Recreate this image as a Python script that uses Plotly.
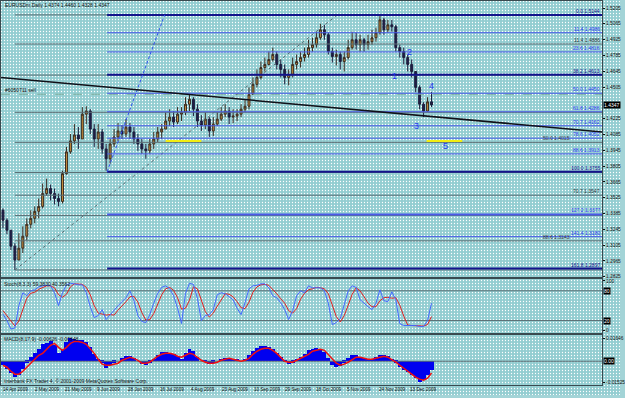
import plotly.graph_objects as go

W, H = 625, 398

# ---------------- data ----------------
FIRST_OPEN = 1.3413
CLOSE = [1.3325, 1.3237, 1.3096, 1.2973, 1.3078, 1.3184, 1.3289, 1.3342, 1.3404, 1.3448,
         1.3562, 1.3606, 1.3562, 1.3518, 1.3492, 1.3738, 1.3931, 1.4028, 1.4081, 1.4045,
         1.4265, 1.4292, 1.4133, 1.4045, 1.4107, 1.3957, 1.3870, 1.4001, 1.4063, 1.4116,
         1.4089, 1.4151, 1.4107, 1.4045, 1.4001, 1.3957, 1.3940, 1.4001, 1.4045, 1.4107,
         1.4133, 1.4204, 1.4239, 1.4195, 1.4265, 1.4283, 1.4353, 1.4397, 1.4309, 1.4204,
         1.4168, 1.4221, 1.4116, 1.4177, 1.4221, 1.4265, 1.4292, 1.4239, 1.4248, 1.4265,
         1.4309, 1.4335, 1.4441, 1.4529, 1.4590, 1.4678, 1.4705, 1.4749, 1.4793, 1.4705,
         1.4661, 1.4590, 1.4617, 1.4705, 1.4731, 1.4766, 1.4793, 1.4854, 1.4880, 1.4942,
         1.5012, 1.4968, 1.4819, 1.4775, 1.4793, 1.4731, 1.4766, 1.4854, 1.4924, 1.4880,
         1.4924, 1.4880, 1.4907, 1.4942, 1.4986, 1.5100, 1.5012, 1.5056, 1.5039, 1.4854,
         1.4819, 1.4766, 1.4705, 1.4643, 1.4502, 1.4353, 1.4292, 1.4374, 1.4347]
HIGH = [1.3430, 1.3342, 1.3237, 1.3122, 1.3210, 1.3272, 1.3342, 1.3413, 1.3448, 1.3518,
        1.3650, 1.3694, 1.3641, 1.3606, 1.3562, 1.3764, 1.3975, 1.4089, 1.4177, 1.4151,
        1.4327, 1.4335, 1.4309, 1.4177, 1.4177, 1.4133, 1.4001, 1.4045, 1.4133, 1.4186,
        1.4168, 1.4221, 1.4186, 1.4151, 1.4089, 1.4045, 1.4001, 1.4045, 1.4107, 1.4151,
        1.4177, 1.4283, 1.4309, 1.4292, 1.4327, 1.4327, 1.4415, 1.4441, 1.4415, 1.4353,
        1.4256, 1.4283, 1.4239, 1.4239, 1.4283, 1.4327, 1.4353, 1.4327, 1.4309, 1.4309,
        1.4353, 1.4397, 1.4502, 1.4590, 1.4661, 1.4731, 1.4766, 1.4819, 1.4854, 1.4819,
        1.4749, 1.4705, 1.4661, 1.4766, 1.4793, 1.4819, 1.4854, 1.4924, 1.4942, 1.4995,
        1.5065, 1.5056, 1.4986, 1.4854, 1.4836, 1.4819, 1.4819, 1.4924, 1.4995, 1.4986,
        1.4968, 1.4942, 1.4968, 1.5012, 1.5030, 1.5144, 1.5118, 1.5100, 1.5100, 1.5056,
        1.4880, 1.4854, 1.4793, 1.4749, 1.4643, 1.4520, 1.4371, 1.4415, 1.4460]
LOW = [1.3254, 1.3202, 1.3061, 1.2885, 1.2973, 1.3035, 1.3149, 1.3254, 1.3298, 1.3342,
       1.3430, 1.3544, 1.3500, 1.3465, 1.3448, 1.3474, 1.3729, 1.3914, 1.4001, 1.3957,
       1.4045, 1.4177, 1.4089, 1.3975, 1.3957, 1.3914, 1.3764, 1.3826, 1.3975, 1.4028,
       1.4045, 1.4063, 1.4045, 1.4001, 1.3940, 1.3914, 1.3870, 1.3914, 1.3957, 1.4019,
       1.4045, 1.4133, 1.4160, 1.4151, 1.4177, 1.4204, 1.4256, 1.4292, 1.4248, 1.4151,
       1.4116, 1.4133, 1.4063, 1.4072, 1.4160, 1.4204, 1.4239, 1.4177, 1.4186, 1.4204,
       1.4239, 1.4283, 1.4309, 1.4441, 1.4502, 1.4573, 1.4643, 1.4696, 1.4731, 1.4661,
       1.4590, 1.4529, 1.4520, 1.4590, 1.4661, 1.4678, 1.4731, 1.4766, 1.4819, 1.4854,
       1.4924, 1.4924, 1.4793, 1.4722, 1.4696, 1.4661, 1.4643, 1.4749, 1.4836, 1.4836,
       1.4819, 1.4819, 1.4836, 1.4880, 1.4907, 1.4968, 1.4968, 1.4986, 1.4995, 1.4819,
       1.4766, 1.4705, 1.4643, 1.4590, 1.4459, 1.4309, 1.4239, 1.4283, 1.4328]
OPEN = [FIRST_OPEN] + CLOSE[:-1]
BARS = list(range(len(CLOSE)))

STOCH_MAIN = [33, 20, 3, 5, 50, 76, 70, 80, 82, 88, 90, 91, 90, 76, 50, 76, 92, 95, 94, 92,
              92, 76, 48, 26, 30, 42, 22, 32, 40, 50, 58, 66, 80, 60, 30, 18, 16, 32, 55, 75,
              87, 90, 84, 70, 45, 14, 75, 95, 93, 65, 20, 30, 32, 42, 72, 76, 74, 68, 62, 45,
              32, 56, 84, 90, 91, 94, 94, 86, 70, 66, 56, 42, 22, 40, 70, 80, 76, 90, 86, 86,
              86, 80, 55, 12, 16, 24, 50, 80, 90, 87, 62, 54, 48, 42, 55, 82, 60, 58, 78, 62,
              14, 10, 10, 10, 10, 8, 8, 20, 55]
STOCH_SIGNAL = [40, 30, 18, 9, 19, 44, 65, 75, 77, 83, 87, 90, 90, 86, 72, 67, 73, 88, 94, 94,
                93, 87, 72, 50, 35, 33, 31, 32, 31, 41, 49, 58, 68, 69, 57, 36, 21, 22, 34, 54,
                72, 84, 87, 81, 66, 43, 45, 61, 88, 84, 59, 38, 27, 35, 49, 63, 74, 73, 68, 58,
                46, 44, 57, 77, 88, 92, 93, 91, 83, 74, 64, 55, 40, 35, 44, 63, 75, 82, 84, 87,
                86, 84, 74, 49, 28, 17, 30, 51, 73, 86, 80, 68, 55, 48, 48, 60, 66, 67, 65, 66,
                51, 29, 11, 10, 10, 9, 9, 12, 28]
MACD_HIST = [-0.0029, -0.0057, -0.0086, -0.0115, -0.0100, -0.0057, -0.0014, 0.0029, 0.0057, 0.0086,
             0.0122, 0.0129, 0.0143, 0.0115, 0.0057, 0.0079, 0.0136, 0.0165, 0.0158, 0.0150,
             0.0150, 0.0136, 0.0100, 0.0050, 0.0014, -0.0014, -0.0050, -0.0029, -0.0014, 0.0000,
             0.0021, 0.0036, 0.0036, 0.0021, 0.0000, -0.0021, -0.0029, -0.0014, 0.0014, 0.0043,
             0.0064, 0.0064, 0.0057, 0.0050, 0.0036, 0.0014, 0.0057, 0.0086, 0.0072, 0.0029,
             0.0000, -0.0007, -0.0021, -0.0014, 0.0000, 0.0014, 0.0021, 0.0021, 0.0014, 0.0007,
             0.0000, 0.0014, 0.0043, 0.0072, 0.0093, 0.0107, 0.0107, 0.0100, 0.0086, 0.0057,
             0.0029, -0.0007, -0.0021, -0.0014, 0.0014, 0.0029, 0.0050, 0.0079, 0.0086, 0.0093,
             0.0086, 0.0064, 0.0021, -0.0029, -0.0043, -0.0036, -0.0014, 0.0021, 0.0043, 0.0043,
             0.0029, 0.0021, 0.0007, 0.0014, 0.0029, 0.0043, 0.0043, 0.0036, 0.0007, -0.0014,
             -0.0043, -0.0064, -0.0079, -0.0100, -0.0122, -0.0150, -0.0136, -0.0100, -0.0063]
MACD_SIGNAL = [-0.0029, -0.0043, -0.0072, -0.0093, -0.0093, -0.0072, -0.0043, -0.0014, 0.0014, 0.0043,
               0.0057, 0.0086, 0.0115, 0.0129, 0.0100, 0.0079, 0.0100, 0.0129, 0.0143, 0.0143,
               0.0136, 0.0122, 0.0093, 0.0057, 0.0014, -0.0021, -0.0029, -0.0029, -0.0021, -0.0014,
               0.0007, 0.0021, 0.0029, 0.0021, 0.0007, -0.0014, -0.0014, -0.0007, 0.0014, 0.0036,
               0.0050, 0.0057, 0.0057, 0.0050, 0.0036, 0.0029, 0.0043, 0.0057, 0.0050, 0.0029,
               0.0007, -0.0007, -0.0014, -0.0014, -0.0007, 0.0007, 0.0014, 0.0021, 0.0014, 0.0007,
               0.0000, 0.0007, 0.0021, 0.0050, 0.0072, 0.0086, 0.0093, 0.0093, 0.0079, 0.0057,
               0.0029, 0.0000, -0.0007, -0.0007, 0.0007, 0.0021, 0.0036, 0.0050, 0.0072, 0.0079,
               0.0086, 0.0079, 0.0050, 0.0014, -0.0014, -0.0029, -0.0021, -0.0007, 0.0014, 0.0029,
               0.0029, 0.0021, 0.0014, 0.0014, 0.0021, 0.0029, 0.0036, 0.0029, 0.0014, -0.0007,
               -0.0029, -0.0050, -0.0072, -0.0093, -0.0115, -0.0129, -0.0136, -0.0122, -0.0085]

PRICE_TICKS = [1.5205, 1.5065, 1.4925, 1.4785, 1.4645, 1.4505, 1.4225, 1.4085, 1.3945,
               1.3805, 1.3665, 1.3525, 1.3385, 1.3245, 1.3105, 1.2965, 1.2825]
LAST_PRICE = 1.4347
STOCH_TICKS = [100, 0]
STOCH_LEVELS = [80, 20]
MACD_TICKS = [0.01646, -0.01525]

DATE_LABELS = ["14 Apr 2009", "2 May 2009", "21 May 2009", "9 Jun 2009", "28 Jun 2009",
               "16 Jul 2009", "4 Aug 2009", "23 Aug 2009", "10 Sep 2009", "29 Sep 2009",
               "18 Oct 2009", "5 Nov 2009", "24 Nov 2009", "13 Dec 2009"]
DATE_POS = [-0.25, 7.75, 15.5, 23.5, 31.25, 39.25, 47.25, 55.0, 63.0, 70.75, 78.75, 86.5, 94.5, 102.25]

# fibonacci objects: levels and prices (gray labels that coincide with blue ones are hidden under them)
GRAY_FIB_RATIOS = ["0.0", "11.4", "23.6", "38.2", "50.0", "61.8", "70.7", "78.6", "88.6", "100.0"]
GRAY_FIB_PRICES = [1.5144, 1.4886, 1.4611, 1.4281, 1.4015, 1.3748, 1.3547, 1.3368, 1.3143, 1.2885]
GRAY_FIB_SHOWN = ["11.4", "50.0", "70.7", "88.6"]
GRAY_FIB_SHIFTED = ["50.0", "88.6"]   # labels crowded by a nearby blue label
GRAY_FIB_ANCHORS_X = [3, 84.25]
GRAY_FIB_ANCHORS_Y = [1.2885, 1.5144]
BLUE_FIB_RATIOS = ["0.0", "11.4", "23.6", "38.2", "50.0", "61.8", "70.7", "78.6", "88.6", "100.0",
                   "127.2", "141.4", "161.8"]
BLUE_FIB_PRICES = [1.5144, 1.4986, 1.4816, 1.4613, 1.4450, 1.4286, 1.4162, 1.4052, 1.3913, 1.3755,
                   1.3377, 1.3180, 1.2897]
BLUE_FIB_ANCHORS_X = [26.25, 40.75]
BLUE_FIB_ANCHORS_Y = [1.3755, 1.5144]

TREND_X = [-0.5, 151]
TREND_Y = [1.4590, 1.4107]
ORDER_PRICE = 1.4441
YELLOW_SEGMENTS = [([41, 50], 1.4028), ([106.75, 115.75], 1.4028)]
WAVE_LABELS = ["1", "2", "3", "4", "5"]
WAVE_X = [98.75, 102.5, 104.25, 108.0, 111.5]
WAVE_Y = [1.4599, 1.4819, 1.4160, 1.4511, 1.3984]

X_RANGE = [-0.5, 151]

# ---------------- styling ----------------
BG = "#a3d4d7"
BG_BASE = "#93cdd1"
FRAME = "#3a4a50"
GRAY = "#5a6e74"
NAVY = "#13138c"
BLUE = "#4a5ae8"
FONT = "Liberation Sans"
BOLD_BLUE = {"0.0", "38.2", "100.0", "161.8"}
LABEL_SHIFT = 7.5


def px(x):
    return x / W


def py(y):
    return 1 - y / H


fig = go.Figure()

# speckled terminal background (page-wide, on its own hidden axes)
fig.add_trace(go.Scatter(x=[0, 1, 1, 0, 0], y=[0, 0, 1, 1, 0], mode="lines", fill="toself",
                         line=dict(width=0), fillcolor=BG_BASE,
                         fillpattern=dict(shape=".", size=3, solidity=0.14, fgcolor="#ffffff",
                                          bgcolor=BG_BASE, fillmode="replace"),
                         xaxis="x", yaxis="y", hoverinfo="skip"))

# order line (dashed)
fig.add_trace(go.Scatter(x=X_RANGE, y=[ORDER_PRICE] * 2, mode="lines",
                         line=dict(color="#78ad9e", width=1, dash="dash"),
                         xaxis="x2", yaxis="y2", hoverinfo="skip"))

# candles
fig.add_trace(go.Candlestick(x=BARS, open=OPEN, high=HIGH, low=LOW, close=CLOSE,
                             increasing=dict(line=dict(color="#3a2c22", width=1), fillcolor="#c8903e"),
                             decreasing=dict(line=dict(color="#1e1e3c", width=1), fillcolor="#1e1e4a"),
                             whiskerwidth=0, xaxis="x2", yaxis="y2", hoverinfo="skip"))

# gray fibonacci
for r, p in zip(GRAY_FIB_RATIOS, GRAY_FIB_PRICES):
    fig.add_trace(go.Scatter(x=[GRAY_FIB_ANCHORS_X[0], X_RANGE[1]], y=[p, p], mode="lines",
                             line=dict(color=GRAY, width=1), xaxis="x2", yaxis="y2", hoverinfo="skip"))
fig.add_trace(go.Scatter(x=GRAY_FIB_ANCHORS_X, y=GRAY_FIB_ANCHORS_Y, mode="lines",
                         line=dict(color=GRAY, width=1, dash="dot"), xaxis="x2", yaxis="y2"))
# blue fibonacci
for r, p in zip(BLUE_FIB_RATIOS, BLUE_FIB_PRICES):
    bold = r in BOLD_BLUE or r == "127.2"
    fig.add_trace(go.Scatter(x=[BLUE_FIB_ANCHORS_X[0], X_RANGE[1]], y=[p, p], mode="lines",
                             line=dict(color=NAVY if r in BOLD_BLUE else BLUE, width=2 if bold else 1),
                             xaxis="x2", yaxis="y2", hoverinfo="skip"))
fig.add_trace(go.Scatter(x=BLUE_FIB_ANCHORS_X, y=BLUE_FIB_ANCHORS_Y, mode="lines",
                         line=dict(color="#3050f0", width=1, dash="3px,2px"), xaxis="x2", yaxis="y2"))

# yellow segments
for xs, p in YELLOW_SEGMENTS:
    fig.add_trace(go.Scatter(x=xs, y=[p, p], mode="lines", line=dict(color="#f2ee10", width=2),
                             xaxis="x2", yaxis="y2", hoverinfo="skip"))

# trendline
fig.add_trace(go.Scatter(x=TREND_X, y=TREND_Y, mode="lines", line=dict(color="#101018", width=1.5),
                         xaxis="x2", yaxis="y2", hoverinfo="skip"))

# stochastic
for lvl in STOCH_LEVELS:
    fig.add_trace(go.Scatter(x=X_RANGE, y=[lvl, lvl], mode="lines", line=dict(color=GRAY, width=1),
                             xaxis="x3", yaxis="y3", hoverinfo="skip"))
fig.add_trace(go.Scatter(x=BARS, y=STOCH_SIGNAL, mode="lines", line=dict(color="#e02020", width=1),
                         xaxis="x3", yaxis="y3"))
fig.add_trace(go.Scatter(x=BARS, y=STOCH_MAIN, mode="lines", line=dict(color="#4468ff", width=1),
                         xaxis="x3", yaxis="y3"))

# MACD
fig.add_trace(go.Scatter(x=X_RANGE, y=[0, 0], mode="lines", line=dict(color=GRAY, width=1),
                         xaxis="x4", yaxis="y4", hoverinfo="skip"))
fig.add_trace(go.Bar(x=BARS, y=MACD_HIST, width=1.0, marker=dict(color="#0000f0", line=dict(width=0)),
                     xaxis="x4", yaxis="y4"))
fig.add_trace(go.Scatter(x=BARS, y=MACD_SIGNAL, mode="lines", line=dict(color="#f01010", width=1.5),
                         xaxis="x4", yaxis="y4"))

ann = []
# fib labels
for r, p in zip(GRAY_FIB_RATIOS, GRAY_FIB_PRICES):
    if r not in GRAY_FIB_SHOWN:
        continue
    xr = X_RANGE[1] - 0.4 - (LABEL_SHIFT if r in GRAY_FIB_SHIFTED else 0)
    ann.append(dict(x=xr, y=p, xref="x2", yref="y2", text=f"{r} {p:.4f}",
                    showarrow=False, xanchor="right", yanchor="bottom",
                    borderpad=0, font=dict(family=FONT, size=5, color="#30383c")))
for r, p in zip(BLUE_FIB_RATIOS, BLUE_FIB_PRICES):
    ann.append(dict(x=X_RANGE[1] - 0.4, y=p, xref="x2", yref="y2", text=f"{r} {p:.4f}",
                    showarrow=False, xanchor="right", yanchor="bottom", borderpad=0,
                    font=dict(family=FONT, size=5, color=NAVY if r in BOLD_BLUE else "#2a3af0")))
# wave labels
for t, x, y in zip(WAVE_LABELS, WAVE_X, WAVE_Y):
    ann.append(dict(x=x, y=y, xref="x2", yref="y2", text=t, showarrow=False,
                    font=dict(family=FONT, size=9, color="#2438f0")))
# date labels
for t, x in zip(DATE_LABELS, DATE_POS):
    ann.append(dict(x=x, y=py(392), xref="x4", yref="paper", text=t, showarrow=False,
                    xanchor="left", yanchor="middle", borderpad=0,
                    font=dict(family=FONT, size=4.6, color="#101010")))
# header texts
for t, x, y in [("EURUSDm,Daily 1.4374 1.4460 1.4328 1.4347", 4, 5),
                ("#6050711 sell", 4, 91),
                ("Stoch(8,3,3) 59.3830 40.3562", 3, 286),
                ("MACD(8,17,9) -0.00626 -0.00848", 3, 342),
                ("Interbank FX Trader 4, © 2001-2009 MetaQuotes Software Corp.", 3, 384)]:
    ann.append(dict(x=px(x), y=py(y), xref="paper", yref="paper", text=t, showarrow=False,
                    xanchor="left", yanchor="middle", borderpad=0,
                    font=dict(family=FONT, size=5, color="#101010")))
# boxed labels on the right scale
for t, yref, y in [(f"{LAST_PRICE:.4f}", "y2", LAST_PRICE), ("80", "y3", 80), ("20", "y3", 20),
                   ("0.00", "y4", 0)]:
    ann.append(dict(x=px(608), y=y, xref="paper", yref=yref, text=t, showarrow=False,
                    xanchor="left", yanchor="middle", bgcolor="#000000", borderpad=0,
                    font=dict(family=FONT, size=5, color="#ffffff")))

xdom = [px(1), px(607)]
common_x = dict(range=X_RANGE, domain=xdom, showgrid=False, zeroline=False, showticklabels=False,
                showline=True, mirror=True, linecolor=FRAME, linewidth=1, ticks="", fixedrange=True)
common_y = dict(showgrid=False, zeroline=False, showline=True, mirror=True, linecolor=FRAME,
                linewidth=1, side="right", ticks="outside", ticklen=2, tickcolor="#101010",
                tickfont=dict(family=FONT, size=4.8, color="#101010"))
hidden = dict(range=[0, 1], domain=[0, 1], visible=False, fixedrange=True)

fig.update_layout(
    width=W, height=H, margin=dict(l=0, r=0, t=0, b=0),
    paper_bgcolor=BG, plot_bgcolor="rgba(0,0,0,0)", showlegend=False, bargap=0,
    xaxis=dict(**hidden, anchor="y"),
    yaxis=dict(**hidden, anchor="x"),
    xaxis2=dict(**common_x, anchor="y2", rangeslider=dict(visible=False)),
    xaxis3=dict(**common_x, anchor="y3", matches="x2"),
    xaxis4=dict(**common_x, anchor="y4", matches="x2"),
    yaxis2=dict(**common_y, anchor="x2", domain=[py(279), py(1)], range=[1.28236, 1.52671],
                tickvals=PRICE_TICKS, ticktext=[f"{v:.4f}" for v in PRICE_TICKS]),
    yaxis3=dict(**common_y, anchor="x3", domain=[py(336), py(281)], range=[-6, 104],
                tickvals=STOCH_TICKS, ticktext=[str(v) for v in STOCH_TICKS]),
    yaxis4=dict(**common_y, anchor="x4", domain=[py(388), py(338)], range=[-0.01718, 0.01861],
                tickvals=MACD_TICKS, ticktext=[f"{v:.5f}" for v in MACD_TICKS]),
    annotations=ann,
)

fig.write_html("out.html")
